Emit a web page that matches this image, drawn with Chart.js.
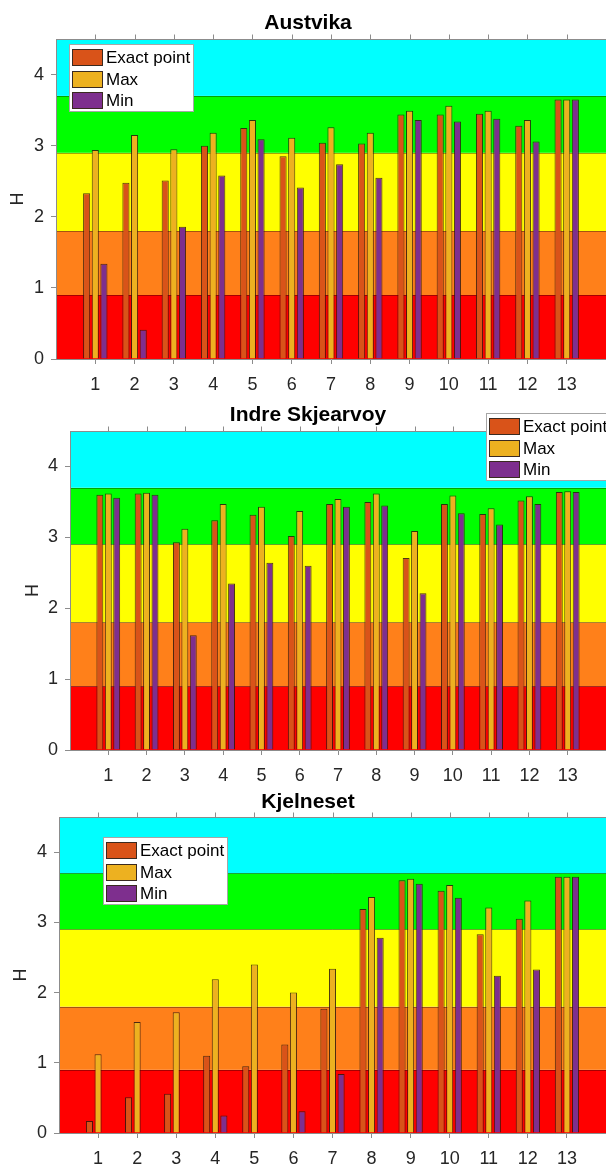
<!DOCTYPE html>
<html>
<head>
<meta charset="utf-8">
<title>H per point</title>
<script src="https://cdn.jsdelivr.net/npm/chart.js@4/dist/chart.umd.min.js"></script>
<style>
  html, body { margin: 0; padding: 0; background: #fff; }
  body { width: 606px; height: 1164px; position: relative; overflow: hidden; }
  /* canvas is wider than the page: chart.js keeps tick padding on the right */
  .panel { position: absolute; left: 0; width: 616px; }
</style>
</head>
<body>
<div class="panel" style="top:0;height:395px"><canvas id="c1"></canvas></div>
<div class="panel" style="top:390px;height:400px"><canvas id="c2"></canvas></div>
<div class="panel" style="top:775px;height:389px"><canvas id="c3"></canvas></div>

<script>
'use strict';

// ---- data ----
const categories = ['1', '2', '3', '4', '5', '6', '7', '8', '9', '10', '11', '12', '13'];
const yTicks = [0, 1, 2, 3, 4];
const bandEdges = [0, 0.9, 1.8, 2.9, 3.7, 4.5];
const seriesNames = ['Exact point', 'Max', 'Min'];

const austvikaExact = [2.33, 2.48, 2.51, 3.00, 3.25, 2.85, 3.04, 3.03, 3.44, 3.44, 3.45, 3.28, 3.65];
const austvikaMax   = [2.94, 3.15, 2.95, 3.18, 3.36, 3.11, 3.26, 3.18, 3.49, 3.56, 3.49, 3.36, 3.65];
const austvikaMin   = [1.34, 0.41, 1.86, 2.58, 3.09, 2.41, 2.74, 2.55, 3.36, 3.34, 3.38, 3.06, 3.65];

const indreExact = [3.60, 3.62, 2.93, 3.24, 3.32, 3.02, 3.47, 3.50, 2.71, 3.47, 3.33, 3.52, 3.64];
const indreMax   = [3.62, 3.63, 3.12, 3.47, 3.43, 3.37, 3.54, 3.62, 3.09, 3.59, 3.41, 3.58, 3.65];
const indreMin   = [3.56, 3.60, 1.62, 2.35, 2.64, 2.60, 3.43, 3.45, 2.21, 3.34, 3.18, 3.47, 3.64];

const kjelnesetExact = [0.17, 0.51, 0.56, 1.10, 0.95, 1.26, 1.77, 3.19, 3.60, 3.45, 2.83, 3.05, 3.65];
const kjelnesetMax   = [1.12, 1.58, 1.72, 2.19, 2.40, 2.00, 2.34, 3.36, 3.62, 3.53, 3.21, 3.31, 3.65];
const kjelnesetMin   = [null, null, null, 0.25, null, 0.31, 0.84, 2.78, 3.55, 3.35, 2.24, 2.33, 3.65];

// ---- styles ----
const bandColors = ['#FF0000', '#FF801A', '#FFFF00', '#00FF00', '#00FFFF'];
const seriesColors = ['#D95319', '#EDB120', '#7E2F8E'];
const axisGray = '#8c8c8c';
const textDark = '#262626';
const tickPad = 10;

Chart.defaults.font.family = '"Liberation Sans", Arial, Helvetica, sans-serif';
Chart.defaults.font.size = 18;
Chart.defaults.color = textDark;

// x runs 0..14 like the original, categories sit on 1..13
const xLabels = ['', ...categories, ''];
const pad = arr => [null, ...arr, null];

// colour bands behind the bars
const bandsPlugin = {
  id: 'bands',
  beforeDraw(chart) {
    const { ctx, chartArea: a, scales: { y } } = chart;
    ctx.save();
    bandColors.forEach((c, i) => {
      const top = y.getPixelForValue(bandEdges[i + 1]);
      const bot = y.getPixelForValue(bandEdges[i]);
      ctx.fillStyle = c;
      ctx.fillRect(a.left, top, a.right - a.left, bot - top);
    });
    ctx.strokeStyle = 'rgba(0,0,0,0.35)';
    ctx.lineWidth = 1;
    bandEdges.slice(1, -1).forEach(v => {
      const py = Math.round(y.getPixelForValue(v)) + 0.5;
      ctx.beginPath();
      ctx.moveTo(a.left, py);
      ctx.lineTo(a.right, py);
      ctx.stroke();
    });
    ctx.restore();
  },
};

// top border with outward ticks (box on)
const topFramePlugin = {
  id: 'topFrame',
  afterDraw(chart) {
    const { ctx, chartArea: a, scales: { x } } = chart;
    const ty = Math.round(a.top) + 0.5;
    ctx.save();
    ctx.strokeStyle = axisGray;
    ctx.lineWidth = 1;
    ctx.beginPath();
    ctx.moveTo(a.left, ty);
    ctx.lineTo(a.right, ty);
    categories.forEach((_, i) => {
      const px = Math.round(x.getPixelForValue(i + 1)) + 0.5;
      ctx.moveTo(px, ty);
      ctx.lineTo(px, ty - 5);
    });
    ctx.stroke();
    ctx.restore();
  },
};

// MATLAB-style boxed legend inside the axes
const boxLegendPlugin = {
  id: 'boxLegend',
  afterDraw(chart, args, opts) {
    const { ctx } = chart;
    const x = opts.x, y = opts.y;
    ctx.save();
    ctx.fillStyle = '#fff';
    ctx.fillRect(x, y, 125, 68);
    ctx.strokeStyle = '#a6a6a6';
    ctx.lineWidth = 1;
    ctx.strokeRect(x + 0.5, y + 0.5, 124, 67);
    ctx.font = '17px "Liberation Sans", Arial, sans-serif';
    ctx.textBaseline = 'middle';
    chart.data.datasets.forEach((ds, i) => {
      const sy = Math.round(y + 5 + i * 21.5);
      ctx.fillStyle = ds.backgroundColor;
      ctx.fillRect(x + 3, sy, 31, 17);
      ctx.strokeStyle = '#3a2a20';
      ctx.strokeRect(x + 3.5, sy + 0.5, 30, 16);
      ctx.fillStyle = '#000';
      ctx.fillText(ds.label, x + 37, sy + 9);
    });
    ctx.restore();
  },
};

const panels = [
  { id: 'c1', title: 'Austvika', data: [austvikaExact, austvikaMax, austvikaMin],
    canvasTop: 0, canvasH: 395, top: 39, bottom: 359, left: 56, titleY: 23, hPad: 7.5,
    legend: { x: 69, y: 44 } },
  { id: 'c2', title: 'Indre Skjearvoy', data: [indreExact, indreMax, indreMin],
    canvasTop: 390, canvasH: 400, top: 431, bottom: 750, left: 70, titleY: 415, hPad: 22,
    legend: { x: 486, y: 23 } },
  { id: 'c3', title: 'Kjelneset', data: [kjelnesetExact, kjelnesetMax, kjelnesetMin],
    canvasTop: 775, canvasH: 389, top: 817, bottom: 1133, left: 59, titleY: 802, hPad: 10.5,
    legend: { x: 103, y: 62 } },
];

const titleSize = 21;
const titleLine = titleSize * 1.2;

panels.forEach(p => {
  const titleTop = p.titleY - p.canvasTop - titleLine / 2;
  const titleBottom = p.top - p.canvasTop - titleTop - titleLine;

  new Chart(document.getElementById(p.id), {
    type: 'bar',
    data: {
      labels: xLabels,
      datasets: p.data.map((arr, i) => ({
        label: seriesNames[i],
        data: pad(arr),
        backgroundColor: seriesColors[i],
        borderColor: 'rgba(45,25,15,0.85)',
        borderWidth: 1,
        categoryPercentage: 0.66,
        barPercentage: 0.82,
      })),
    },
    options: {
      responsive: true,
      maintainAspectRatio: false,
      animation: false,
      events: [],
      layout: { padding: { top: 0, right: 0, bottom: 0, left: 0 } },
      plugins: {
        legend: { display: false },
        tooltip: { enabled: false },
        title: {
          display: true,
          text: p.title,
          color: '#000',
          font: { size: titleSize, weight: 'bold', lineHeight: 1.2 },
          padding: { top: titleTop, bottom: titleBottom },
        },
        boxLegend: p.legend,
      },
      scales: {
        x: {
          offset: false,
          grid: {
            offset: false,
            drawOnChartArea: false,
            drawTicks: true,
            tickLength: 5,
            color: ctx => (ctx.index === 0 || ctx.index === xLabels.length - 1) ? 'rgba(0,0,0,0)' : axisGray,
          },
          border: { display: true, color: axisGray, width: 1 },
          ticks: { autoSkip: false, maxRotation: 0, padding: tickPad, color: textDark, font: { size: 18 } },
          afterFit: s => { s.height = p.canvasTop + p.canvasH - p.bottom; },
        },
        y: {
          min: 0,
          max: 4.5,
          afterBuildTicks: s => { s.ticks = yTicks.map(v => ({ value: v })); },
          grid: { drawOnChartArea: false, drawTicks: true, tickLength: 5, color: axisGray },
          border: { display: true, color: axisGray, width: 1 },
          ticks: { padding: 7, color: textDark, font: { size: 18 } },
          title: { display: true, text: 'H', color: textDark, font: { size: 18 }, padding: { top: p.hPad, bottom: 0 } },
          afterFit: s => { s.width = p.left; },
        },
      },
    },
    plugins: [bandsPlugin, topFramePlugin, boxLegendPlugin],
  });
});
</script>
</body>
</html>
